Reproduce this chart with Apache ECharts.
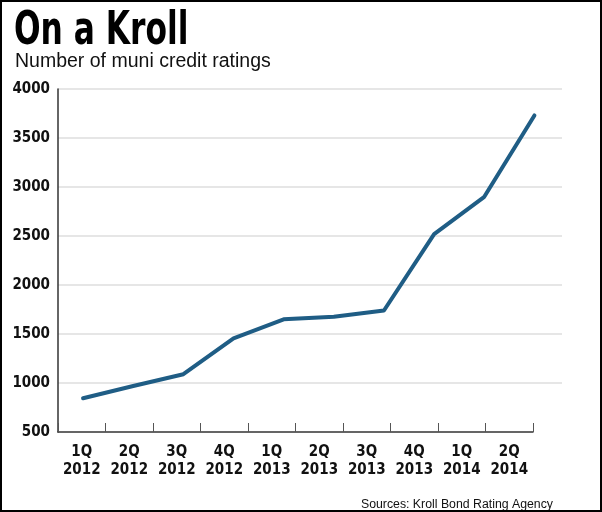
<!DOCTYPE html>
<html>
<head>
<meta charset="utf-8">
<script src="https://cdn.jsdelivr.net/npm/echarts@6/dist/echarts.min.js"></script>
<style>
html,body{margin:0;padding:0;background:#fff;}
#chart{width:602px;height:512px;}
</style>
</head>
<body>
<div id="chart"></div>
<script>
const categories = ['1Q\n2012','2Q\n2012','3Q\n2012','4Q\n2012','1Q\n2013','2Q\n2013','3Q\n2013','4Q\n2013','1Q\n2014','2Q\n2014'];
const ratings = [845, 970, 1090, 1455, 1650, 1675, 1740, 2520, 2900, 3730];
const yTicks = [500, 1000, 1500, 2000, 2500, 3000, 3500, 4000];

const narrow = "'Liberation Sans Narrow', 'Noto Sans Condensed', 'DejaVu Sans Condensed', sans-serif";
const chart = echarts.init(document.getElementById('chart'), null, {renderer: 'canvas'});

const option = {
  animation: false,
  backgroundColor: '#fff',
  title: [
    {text: 'Number of muni credit ratings', left: 10, top: 47,
     textStyle: {fontFamily: "'Liberation Sans', Arial, sans-serif", fontWeight: 'normal', fontSize: 19.5, color: '#111'}},
    {text: 'Sources: Kroll Bond Rating Agency', right: 44, top: 494,
     textStyle: {fontFamily: "'Liberation Sans', Arial, sans-serif", fontWeight: 'normal', fontSize: 12.3, color: '#111'}}
  ],
  graphic: [
    {type: 'rect', shape: {x: 1, y: 1, width: 600, height: 510},
     style: {fill: 'none', stroke: '#000', lineWidth: 2}, z: 100, silent: true},
    {type: 'text', x: 14, y: 8, scaleX: 0.74,
     style: {text: 'On a Kroll', fontFamily: narrow, fontWeight: 'bold', fontSize: 47, fill: '#000', textVerticalAlign: 'top'}}
  ],
  grid: [
    {left: 58, top: 89, width: 504, height: 343},
    {left: 58, top: 89, width: 475, height: 343}
  ],
  xAxis: [
    {type: 'value', gridIndex: 0, min: -0.5, max: 9.55, show: false},
    {type: 'category', gridIndex: 1, data: categories, boundaryGap: true,
     axisLine: {show: true, lineStyle: {color: '#333', width: 1.5}},
     axisTick: {show: true, inside: true, length: 9, alignWithLabel: false, lineStyle: {color: '#555', width: 1}},
     axisLabel: {show: true, interval: 0, margin: 11, lineHeight: 18, color: '#111',
                 fontFamily: narrow, fontWeight: 'bold', fontSize: 15},
     splitLine: {show: false}}
  ],
  yAxis: [
    {type: 'value', gridIndex: 0, min: yTicks[0], max: yTicks[yTicks.length - 1], interval: 500,
     axisLine: {show: true, onZero: false, lineStyle: {color: '#333', width: 1.5}},
     axisTick: {show: false},
     axisLabel: {margin: 8, color: '#111', fontFamily: narrow, fontWeight: 'bold', fontSize: 15,
                 formatter: v => String(v)},
     splitLine: {show: true, lineStyle: {color: ['rgba(0,0,0,0)', '#e6e6e6', '#e6e6e6', '#e6e6e6', '#e6e6e6', '#e6e6e6', '#e6e6e6', '#e6e6e6'], width: 2}}},
    {type: 'value', gridIndex: 1, min: 500, max: 4000, show: false}
  ],
  series: [{
    type: 'line',
    xAxisIndex: 0, yAxisIndex: 0,
    data: ratings.map((v, i) => [i, v]),
    showSymbol: false,
    lineStyle: {color: '#1f5d85', width: 4, cap: 'round', join: 'round'},
    z: 5
  }]
};
chart.setOption(option);
</script>
</body>
</html>
